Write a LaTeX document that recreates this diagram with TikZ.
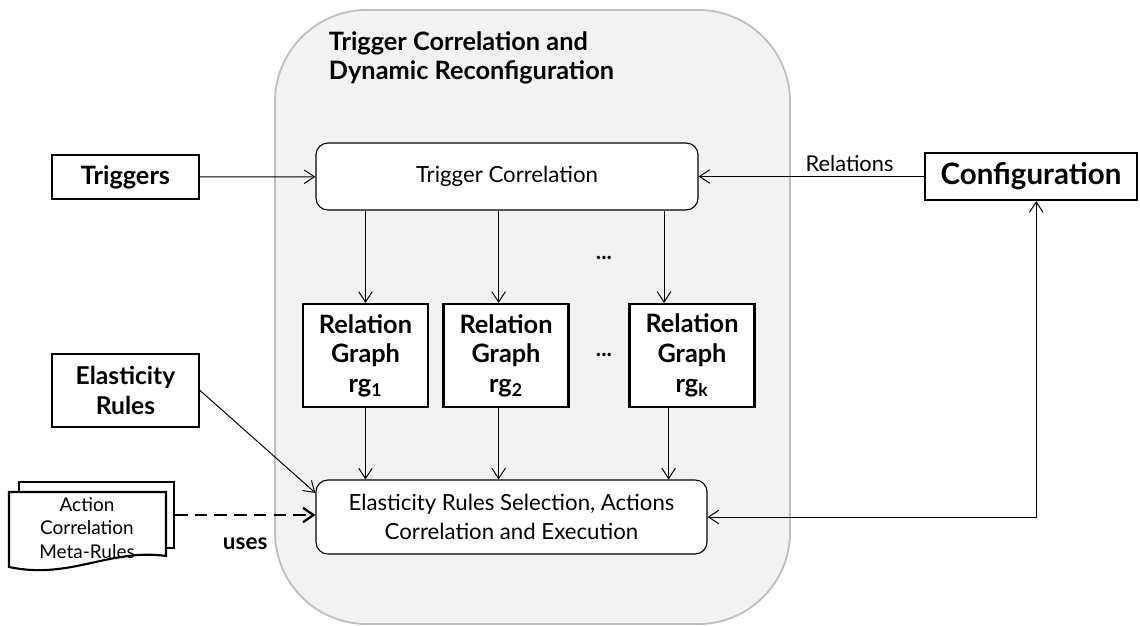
\documentclass[tikz,border=0pt]{standalone}
\usepackage{fontspec}
\setmainfont{Lato}
\usetikzlibrary{arrows.meta, positioning}

\begin{document}
\begin{tikzpicture}[
    x=0.025cm, y=-0.025cm,
    region/.style={draw=black!25, fill=black!5, line width=1.3pt, rounded corners=2.3cm, minimum width=12.875cm, minimum height=15.35cm},
    input/.style={draw, line width=1.5pt, fill=white, align=center, font=\bfseries\fontsize{18}{21}\selectfont},
    process/.style={draw, line width=0.8pt, fill=white, rounded corners=0.3cm, align=center, font=\fontsize{15.8}{21}\selectfont},
    graphbox/.style={input, minimum width=3.125cm, minimum height=2.575cm},
    page/.style={draw, line width=1.5pt, fill=white},
    flow/.style={-{Straight Barb[length=2.6mm, width=3.4mm]}, line width=0.7pt},
    flowboth/.style={{Straight Barb[length=2.6mm, width=3.4mm]}-{Straight Barb[length=2.6mm, width=3.4mm]}, line width=0.7pt},
    uses/.style={-{Straight Barb[length=2.6mm, width=3.6mm]}, line width=1.6pt, dash pattern=on 9pt off 5pt}
]
\useasboundingbox (0,0) rectangle (1140,626);

% shaded area
\node[region] (tcdr) at (532.5,317) {};
\node[anchor=west, align=left, font=\bfseries\fontsize{18}{20.5}\selectfont] (title) at (324,58) {Trigger Correlation and\\Dynamic Reconfiguration};

\node[input, minimum width=3.675cm, minimum height=1.1cm] (triggers) at (125.5,177) {Triggers};
\node[input, minimum width=5.3cm, minimum height=1.175cm, font=\bfseries\fontsize{21}{24}\selectfont] (config) at (1031,176.5) {Configuration};
\node[input, minimum width=3.675cm, minimum height=1.825cm, font=\bfseries\fontsize{17.5}{21}\selectfont] (elastic) at (125.5,390.5) {Elasticity\\Rules};

\node[process, minimum width=9.55cm, minimum height=1.675cm] (tc) at (507,176.5) {Trigger Correlation};
\node[process, minimum width=9.775cm, minimum height=1.85cm] (sel) at (511.5,517) {Elasticity Rules Selection, Actions\\Correlation and Execution};

\node[graphbox] (rg1) at (365.5,355.5) {Relation\\Graph\\rg\textsubscript{1}};
\node[graphbox] (rg2) at (506,355.5) {Relation\\Graph\\rg\textsubscript{2}};
\node[graphbox] (rg3) at (692,355.5) {Relation\\Graph\\rg\textsubscript{k}};

\node[font=\bfseries\fontsize{16}{20}\selectfont] (dots1) at (604,258) {...};
\node[font=\bfseries\fontsize{16}{20}\selectfont] (dots2) at (604,355) {...};

% meta-rules documents
\node[page, minimum width=3.875cm, minimum height=1.65cm] (pageback) at (96.5,515) {};
\draw[page] (9,492) -- (166,492) -- (166,556)
    .. controls (110,548) and (70,580) .. (9,567) -- cycle;
\node[align=center, font=\fontsize{13.5}{16.5}\selectfont] (meta) at (87,528) {Action\\Correlation\\Meta-Rules};

\draw[flow] (triggers) -- (tc);
\draw[flow] (config) -- node[above, pos=0.33, font=\fontsize{15.5}{19}\selectfont] {Relations} (tc);

\draw[flow] (tc.south -| rg1.north) -- (rg1.north);
\draw[flow] (tc.south -| rg2.98) -- (rg2.98);
\draw[flow] (tc.south -| rg3.118) -- (rg3.118);

\draw[flow] (rg1.south) -- (rg1.south |- sel.north);
\draw[flow] (rg2.262) -- (rg2.262 |- sel.north);
\draw[flow] (rg3.246) -- (rg3.246 |- sel.north);

\draw[flow] (elastic.east) -- (sel.173);
\draw[uses] (pageback.east) -- node[below=12pt, font=\bfseries\fontsize{16}{20}\selectfont] {uses} (pageback.east -| sel.west);
\draw[flowboth] (sel.east) -| (config.282);
\end{tikzpicture}
\end{document}
